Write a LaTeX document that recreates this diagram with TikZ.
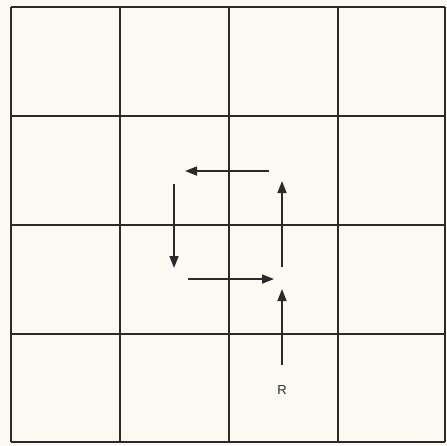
\documentclass[tikz,border=0pt]{standalone}
\usepackage{fontspec}
\setmainfont{Liberation Sans}
\usetikzlibrary{arrows.meta}
\definecolor{paper}{HTML}{FBF9F1}
\definecolor{ink}{HTML}{2A2A2A}
\begin{document}
\begin{tikzpicture}[x=1pt,y=-1pt,
  gridline/.style={draw=ink,line width=1.4pt},
  flow/.style={draw=ink,line width=1.7pt,-{Triangle[length=12pt,width=9pt]}},
  lbl/.style={font=\fontsize{13}{15}\selectfont,text=ink}]
\fill[paper] (0,0) rectangle (447,445);
\useasboundingbox (0,0) rectangle (447,445);
\foreach \x in {11,120,229,338,445} \draw[gridline] (\x,7) -- (\x,442);
\foreach \y in {7,116,225,334,442} \draw[gridline] (11,\y) -- (445,\y);
\coordinate (a1) at (269,171); \coordinate (a2) at (185,171);
\coordinate (b1) at (174,184); \coordinate (b2) at (174,268);
\coordinate (c1) at (188,279); \coordinate (c2) at (274,279);
\coordinate (d1) at (282,267); \coordinate (d2) at (282,181);
\coordinate (e1) at (282,365); \coordinate (e2) at (282,289);
\draw[flow] (a1) -- (a2);
\draw[flow] (b1) -- (b2);
\draw[flow] (c1) -- (c2);
\draw[flow] (d1) -- (d2);
\draw[flow] (e1) -- (e2);
\node[lbl] (r) at (282,390) {R};
\end{tikzpicture}
\end{document}
